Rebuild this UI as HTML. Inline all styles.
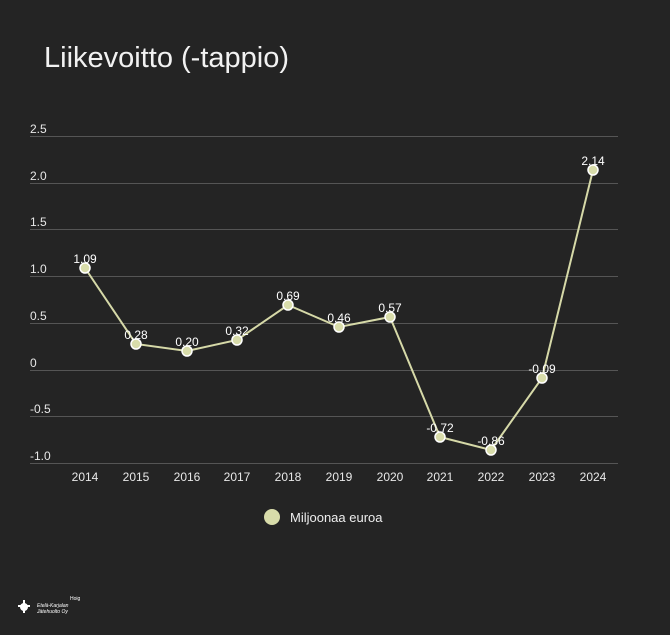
<!DOCTYPE html>
<html><head><meta charset="utf-8"><style>
html,body{margin:0;padding:0;background:#242424;}
svg{display:block;}
</style></head><body>
<svg width="670" height="635" xmlns="http://www.w3.org/2000/svg" font-family="Liberation Sans, sans-serif">
<rect width="670" height="635" fill="#242424"/>
<text x="44" y="67" fill="#f2f2f2" font-size="29">Liikevoitto (-tappio)</text>
<g stroke="#555" stroke-width="1">
<line x1="30" x2="618" y1="136.5" y2="136.5"/>
<line x1="30" x2="618" y1="183.5" y2="183.5"/>
<line x1="30" x2="618" y1="229.5" y2="229.5"/>
<line x1="30" x2="618" y1="276.5" y2="276.5"/>
<line x1="30" x2="618" y1="323.5" y2="323.5"/>
<line x1="30" x2="618" y1="370.5" y2="370.5"/>
<line x1="30" x2="618" y1="416.5" y2="416.5"/>
<line x1="30" x2="618" y1="463.5" y2="463.5"/>
</g>
<g fill="#e8e8e8" font-size="12">
<text x="30" y="133">2.5</text>
<text x="30" y="180">2.0</text>
<text x="30" y="226">1.5</text>
<text x="30" y="273">1.0</text>
<text x="30" y="320">0.5</text>
<text x="30" y="367">0</text>
<text x="30" y="413">-0.5</text>
<text x="30" y="460">-1.0</text>
</g>
<g fill="#e8e8e8" font-size="12" text-anchor="middle">
<text x="85" y="481">2014</text><text x="136" y="481">2015</text><text x="187" y="481">2016</text>
<text x="237" y="481">2017</text><text x="288" y="481">2018</text><text x="339" y="481">2019</text>
<text x="390" y="481">2020</text><text x="440" y="481">2021</text><text x="491" y="481">2022</text>
<text x="542" y="481">2023</text><text x="593" y="481">2024</text>
</g>
<polyline fill="none" stroke="#d6d9a8" stroke-width="2" points="85,268 136,344 187,351 237,340 288,305 339,327 390,317 440,437 491,450 542,378 593,170"/>
<g fill="#d8dcaa" stroke="#fff" stroke-width="1.5">
<circle cx="85" cy="268" r="5"/><circle cx="136" cy="344" r="5"/><circle cx="187" cy="351" r="5"/>
<circle cx="237" cy="340" r="5"/><circle cx="288" cy="305" r="5"/><circle cx="339" cy="327" r="5"/>
<circle cx="390" cy="317" r="5"/><circle cx="440" cy="437" r="5"/><circle cx="491" cy="450" r="5"/>
<circle cx="542" cy="378" r="5"/><circle cx="593" cy="170" r="5"/>
</g>
<g fill="#fff" font-size="12" text-anchor="middle">
<text x="85" y="263">1.09</text><text x="136" y="339">0.28</text><text x="187" y="346">0.20</text>
<text x="237" y="335">0.32</text><text x="288" y="300">0.69</text><text x="339" y="322">0.46</text>
<text x="390" y="312">0.57</text><text x="440" y="432">-0.72</text><text x="491" y="445">-0.86</text>
<text x="542" y="373">-0.09</text><text x="593" y="165">2.14</text>
</g>
<circle cx="272" cy="517" r="8" fill="#d8dcaa"/>
<text x="290" y="522" fill="#eee" font-size="13">Miljoonaa euroa</text>
<g fill="#fff">
<circle cx="24" cy="607" r="4"/>
<rect x="18" y="605" width="12" height="2"/>
<rect x="23" y="600" width="2" height="13"/>
<text x="37" y="607" font-size="5" font-style="italic">Etelä-Karjalan</text>
<text x="37" y="613" font-size="5" font-style="italic">Jätehuolto Oy</text>
<text x="70" y="600" font-size="5">Hoig</text>
</g>
</svg>
</body></html>
